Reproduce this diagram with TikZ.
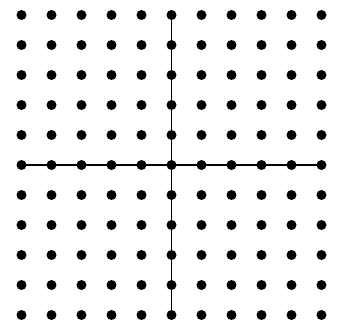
\documentclass[tikz,border=0pt]{standalone}
\begin{document}
\begin{tikzpicture}[x=1pt,y=-1pt,
  dotstyle/.style={circle,fill=black,inner sep=0pt,minimum size=10pt},
  axisline/.style={line width=1.8pt}]
\useasboundingbox (0,0) rectangle (337,324);
\foreach \i in {0,...,10}{
  \foreach \j in {0,...,10}{
    \node[dotstyle] (d\i-\j) at ({21.5+30*\i},{15+30*\j}) {};
  }
}
\draw[axisline] (d5-0.center) -- (d5-10.center);
\draw[axisline] (d0-5.center) -- (d10-5.center);
\end{tikzpicture}
\end{document}
